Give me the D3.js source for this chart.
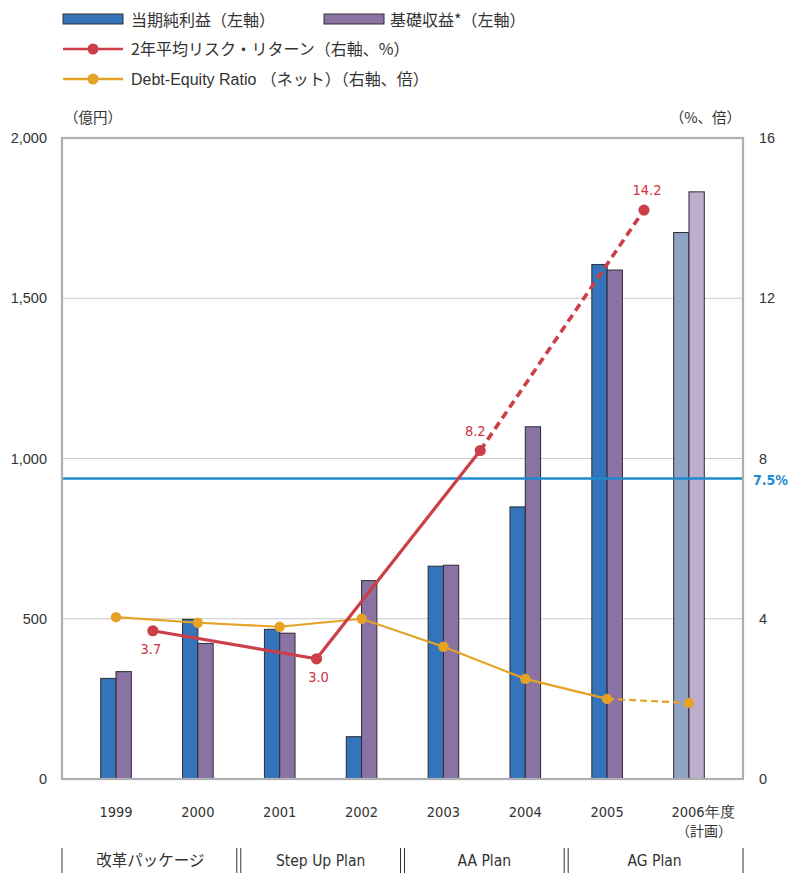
<!DOCTYPE html>
<html lang="ja">
<head>
<meta charset="utf-8">
<script src="https://cdn.jsdelivr.net/npm/d3@7"></script>
<style>
  html, body { margin: 0; padding: 0; background: #fff; }
  svg { display: block; }
  text { fill: #333; }
</style>
</head>
<body>
<svg id="chart" width="789" height="873"></svg>
<script>
// Fiscal years on the horizontal axis
const years = ["1999", "2000", "2001", "2002", "2003", "2004", "2005", "2006"];
// Net income and core earnings, 億円 (left axis); 2006 is the plan
const netIncome = [314, 498, 467, 132, 664, 849, 1605, 1705];
const coreEarnings = [335, 423, 455, 619, 667, 1099, 1588, 1832];
// Two-year average risk-adjusted return, % (right axis), one point per two-year period
const riskStartYears = ["1999", "2001", "2003", "2005"];
const riskReturn = [3.7, 3.0, 8.2, 14.2];
// Net debt-equity ratio, times (right axis)
const deRatio = [4.04, 3.9, 3.8, 4.0, 3.3, 2.5, 2.0, 1.9];
// Reference hurdle line on the right axis
const hurdleRate = 7.5;
// Axis ticks
const leftTicks = [0, 500, 1000, 1500, 2000];
const rightTicks = [0, 4, 8, 12, 16];
// Mid-term plans and the years they cover
const plans = [
  { name: "改革パッケージ", from: "1999", to: "2000" },
  { name: "Step Up Plan", from: "2001", to: "2002" },
  { name: "AA Plan", from: "2003", to: "2004" },
  { name: "AG Plan", from: "2005", to: "2006" }
];

const CJK = "'Noto Sans CJK JP', sans-serif";
const LAT = "'Liberation Sans', Arial, 'Noto Sans CJK JP', sans-serif";
const NARROW = "'Liberation Sans Narrow', 'DejaVu Sans Condensed', 'Liberation Sans', sans-serif";

const svg = d3.select("#chart");
const plot = { left: 62, right: 743, top: 138, bottom: 779 };

const x = d3.scalePoint().domain(years).range([plot.left, plot.right]).padding(0.66);
const step = x.step();
const yL = d3.scaleLinear().domain([0, 2000]).range([plot.bottom, plot.top]);
const yR = d3.scaleLinear().domain([0, 16]).range([plot.bottom, plot.top]);
const barW = 15.3;

const colors = {
  net: "#3574bb", core: "#8a72a3",
  netPlan: "#8fa3c3", corePlan: "#bdaecd",
  red: "#cc3f48", orange: "#e6a224", hurdle: "#1e8ad0",
  grid: "#c9c9c9", frame: "#aeafb3"
};

// Gridlines
svg.append("g").selectAll("line")
  .data(leftTicks.filter(d => d > 0 && d < 2000))
  .join("line")
  .attr("x1", plot.left).attr("x2", plot.right)
  .attr("y1", d => yL(d)).attr("y2", d => yL(d))
  .attr("stroke", colors.grid).attr("stroke-width", 1.2);

// Bars
const planYear = "2006";
const bars = svg.append("g");
bars.selectAll("rect.net").data(years).join("rect")
  .attr("class", "net")
  .attr("x", d => x(d) - barW).attr("width", barW)
  .attr("y", (d, i) => yL(netIncome[i]))
  .attr("height", (d, i) => yL(0) - yL(netIncome[i]))
  .attr("fill", d => d === planYear ? colors.netPlan : colors.net)
  .attr("stroke", "#2b2b35").attr("stroke-width", 1);
bars.selectAll("rect.core").data(years).join("rect")
  .attr("class", "core")
  .attr("x", d => x(d)).attr("width", barW)
  .attr("y", (d, i) => yL(coreEarnings[i]))
  .attr("height", (d, i) => yL(0) - yL(coreEarnings[i]))
  .attr("fill", d => d === planYear ? colors.corePlan : colors.core)
  .attr("stroke", "#2b2b35").attr("stroke-width", 1);

// Hurdle line
svg.append("line")
  .attr("x1", plot.left).attr("x2", plot.right)
  .attr("y1", yR(hurdleRate)).attr("y2", yR(hurdleRate))
  .attr("stroke", colors.hurdle).attr("stroke-width", 2.6);
svg.append("text")
  .attr("x", 753).attr("y", yR(hurdleRate) + 6)
  .attr("font-family", "'DejaVu Sans Condensed', " + LAT)
  .attr("font-weight", "bold").attr("font-size", 14)
  .style("fill", colors.hurdle)
  .text(hurdleRate + "%");

// Frame
svg.append("rect")
  .attr("x", plot.left).attr("y", plot.top)
  .attr("width", plot.right - plot.left).attr("height", plot.bottom - plot.top)
  .attr("fill", "none").attr("stroke", colors.frame).attr("stroke-width", 2.2);

// Debt-equity ratio line (last segment is the plan, dashed)
const deLine = d3.line().x(d => d.x).y(d => d.y);
const dePts = years.map((yr, i) => ({ x: x(yr), y: yR(deRatio[i]) }));
svg.append("path").datum(dePts.slice(0, 7))
  .attr("d", deLine).attr("fill", "none")
  .attr("stroke", colors.orange).attr("stroke-width", 2.2);
svg.append("path").datum(dePts.slice(6))
  .attr("d", deLine).attr("fill", "none")
  .attr("stroke", colors.orange).attr("stroke-width", 2.2)
  .attr("stroke-dasharray", "7,4");
svg.append("g").selectAll("circle").data(dePts).join("circle")
  .attr("cx", d => d.x).attr("cy", d => d.y).attr("r", 5.2)
  .attr("fill", colors.orange);

// Risk-return line, plotted between the two years of each period
const rrPts = riskStartYears.map((yr, i) => ({ x: x(yr) + step * 0.45, y: yR(riskReturn[i]), v: riskReturn[i] }));
svg.append("path").datum(rrPts.slice(0, 3))
  .attr("d", deLine).attr("fill", "none")
  .attr("stroke", colors.red).attr("stroke-width", 3.2);
svg.append("path").datum(rrPts.slice(2))
  .attr("d", deLine).attr("fill", "none")
  .attr("stroke", colors.red).attr("stroke-width", 3.6)
  .attr("stroke-dasharray", "8,5");
svg.append("g").selectAll("circle").data(rrPts).join("circle")
  .attr("cx", d => d.x).attr("cy", d => d.y).attr("r", 5.6)
  .attr("fill", colors.red);
const rrLabelOffset = [[-2, 23], [2, 23], [-5, -14], [3, -15]];
svg.append("g").selectAll("text").data(rrPts).join("text")
  .attr("x", (d, i) => d.x + rrLabelOffset[i][0])
  .attr("y", (d, i) => d.y + rrLabelOffset[i][1])
  .attr("text-anchor", "middle")
  .attr("font-family", "'DejaVu Sans Condensed', " + LAT)
  .attr("font-size", 14.5)
  .style("fill", "#d2323f")
  .text(d => d.v.toFixed(1));

// Left axis labels
svg.append("g").selectAll("text").data(leftTicks).join("text")
  .attr("x", 47).attr("y", d => yL(d) + 5)
  .attr("text-anchor", "end")
  .attr("font-family", LAT).attr("font-size", 14.5)
  .text(d => d3.format(",")(d));
svg.append("text").attr("x", 64).attr("y", 123)
  .attr("font-family", CJK).attr("font-size", 14.5)
  .text("（億円）");

// Right axis labels
svg.append("g").selectAll("text").data(rightTicks).join("text")
  .attr("x", 759).attr("y", d => yR(d) + 5)
  .attr("font-family", LAT).attr("font-size", 14.5)
  .text(d => d);
svg.append("text").attr("x", 741).attr("y", 123)
  .attr("text-anchor", "end")
  .attr("font-family", CJK).attr("font-size", 14.5)
  .text("（%、倍）");

// Year labels
svg.append("g").selectAll("text").data(years).join("text")
  .attr("x", d => d === planYear ? x(d) + 14 : x(d))
  .attr("y", 817)
  .attr("text-anchor", "middle")
  .attr("font-family", NARROW).attr("font-size", 14.5)
  .text(d => d === planYear ? d + "年度" : d);
svg.append("text").attr("x", x(planYear) + 15).attr("y", 836)
  .attr("text-anchor", "middle")
  .attr("font-family", CJK).attr("font-size", 14)
  .text("（計画）");

// Plan periods
const boundaries = [];
plans.forEach((p, k) => {
  const a = years.indexOf(p.from), b = years.indexOf(p.to);
  const x0 = a === 0 ? plot.left : (x(years[a - 1]) + x(years[a])) / 2;
  const x1 = b === years.length - 1 ? plot.right : (x(years[b]) + x(years[b + 1])) / 2;
  p.cx = (x0 + x1) / 2;
  if (k === 0) boundaries.push({ x: x0, dbl: false });
  boundaries.push({ x: x1, dbl: b !== years.length - 1 });
});
const sepG = svg.append("g").attr("stroke", "#333").attr("stroke-width", 1);
boundaries.forEach(bd => {
  const xs = bd.dbl ? [bd.x - 2, bd.x + 2] : [bd.x];
  xs.forEach(xx => sepG.append("line")
    .attr("x1", xx).attr("x2", xx).attr("y1", 848).attr("y2", 873));
});
svg.append("g").selectAll("text").data(plans).join("text")
  .attr("x", d => d.cx).attr("y", 866)
  .attr("text-anchor", "middle")
  .attr("font-family", NARROW + ", " + CJK).attr("font-size", 15.5)
  .text(d => d.name);

// Legend
const legend = svg.append("g");
legend.append("rect").attr("x", 63).attr("y", 14).attr("width", 60).attr("height", 10)
  .attr("fill", colors.net).attr("stroke", "#333").attr("stroke-width", 1);
legend.append("text").attr("x", 131).attr("y", 26).attr("font-family", CJK).attr("font-size", 16)
  .text("当期純利益（左軸）");
legend.append("rect").attr("x", 324).attr("y", 14).attr("width", 60).attr("height", 10)
  .attr("fill", colors.core).attr("stroke", "#333").attr("stroke-width", 1);
legend.append("text").attr("x", 390).attr("y", 26).attr("font-family", CJK).attr("font-size", 16)
  .text("基礎収益*（左軸）");
legend.append("line").attr("x1", 63).attr("x2", 123).attr("y1", 49).attr("y2", 49)
  .attr("stroke", colors.red).attr("stroke-width", 2.6);
legend.append("circle").attr("cx", 93).attr("cy", 49).attr("r", 5.5).attr("fill", colors.red);
legend.append("text").attr("x", 131).attr("y", 55).attr("font-family", CJK).attr("font-size", 16)
  .text("2年平均リスク・リターン（右軸、%）");
legend.append("line").attr("x1", 63).attr("x2", 123).attr("y1", 79).attr("y2", 79)
  .attr("stroke", colors.orange).attr("stroke-width", 2.6);
legend.append("circle").attr("cx", 93).attr("cy", 79).attr("r", 5.5).attr("fill", colors.orange);
legend.append("text").attr("x", 131).attr("y", 85).attr("font-family", LAT).attr("font-size", 16)
  .text("Debt-Equity Ratio （ネット）（右軸、倍）");
</script>
</body>
</html>
